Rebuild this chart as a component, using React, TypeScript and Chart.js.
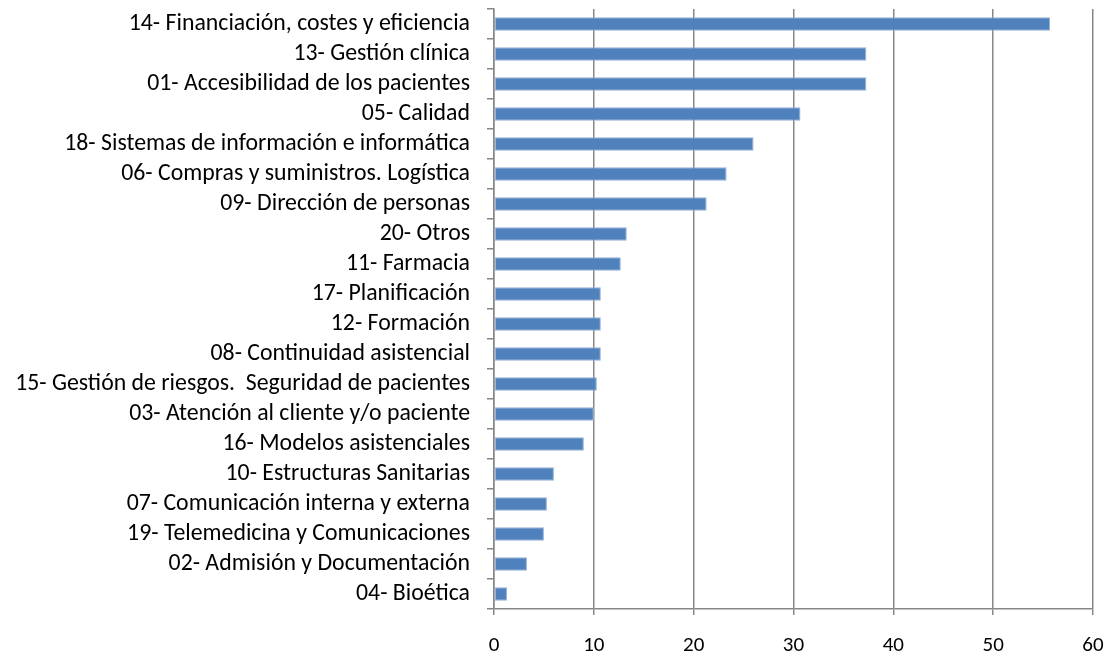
import React, { useEffect, useRef } from "react";
import { Chart, registerables } from "chart.js";

Chart.register(...registerables);

const categories: string[] = [
  "14- Financiación, costes y eficiencia",
  "13- Gestión clínica",
  "01- Accesibilidad de los pacientes",
  "05- Calidad",
  "18- Sistemas de información e informática",
  "06- Compras y suministros. Logística",
  "09- Dirección de personas",
  "20- Otros",
  "11- Farmacia",
  "17- Planificación",
  "12- Formación",
  "08- Continuidad asistencial",
  "15- Gestión de riesgos.  Seguridad de pacientes",
  "03- Atención al cliente y/o paciente",
  "16- Modelos asistenciales",
  "10- Estructuras Sanitarias",
  "07- Comunicación interna y externa",
  "19- Telemedicina y Comunicaciones",
  "02- Admisión y Documentación",
  "04- Bioética",
];

const values: number[] = [
  55.7, 37.3, 37.3, 30.7, 26.0, 23.3, 21.3, 13.3, 12.7, 10.7, 10.7, 10.7, 10.3,
  10.0, 9.0, 6.0, 5.3, 5.0, 3.3, 1.3,
];

const xMin = 0;
const xMax = 60;
const xStep = 10;

const FONT = "Carlito, 'Open Sans', 'Liberation Sans', sans-serif";
const GRID = "#878787";

export default function App() {
  const ref = useRef<HTMLCanvasElement | null>(null);

  useEffect(() => {
    document.body.style.margin = "0";
    const canvas = ref.current;
    if (!canvas) return;
    const chart = new Chart(canvas, {
      type: "bar",
      data: {
        labels: categories,
        datasets: [
          {
            data: values,
            backgroundColor: "#4F81BD",
            borderColor: "#94b2d8",
            borderWidth: 1,
            borderSkipped: false,
            barPercentage: 0.45,
            categoryPercentage: 1,
          },
        ],
      },
      options: {
        indexAxis: "y",
        animation: false,
        responsive: false,
        maintainAspectRatio: false,
        layout: { padding: { top: 9, right: 17, bottom: 0, left: 0 } },
        plugins: { legend: { display: false }, tooltip: { enabled: false } },
        scales: {
          x: {
            min: xMin,
            max: xMax,
            ticks: {
              stepSize: xStep,
              color: "#000",
              font: { family: FONT, size: 21 },
              padding: 18,
              maxRotation: 0,
            },
            grid: {
              color: GRID,
              lineWidth: 1.5,
              tickLength: 6,
              drawTicks: true,
            },
            border: { color: GRID, width: 1.5 },
            afterFit: (axis: any) => {
              axis.height = 47;
              axis.paddingLeft = 0;
              axis.paddingRight = 0;
            },
          },
          y: {
            ticks: {
              color: "#000",
              font: { family: FONT, size: 23.8 },
              padding: 17,
              autoSkip: false,
            },
            grid: {
              drawOnChartArea: false,
              drawTicks: true,
              tickLength: 7,
              color: GRID,
              lineWidth: 1.5,
              offset: true,
            },
            border: { color: GRID, width: 1.5 },
            afterFit: (axis: any) => {
              axis.width = 494;
              axis.paddingTop = 0;
              axis.paddingBottom = 0;
            },
          },
        },
      },
    });
    return () => chart.destroy();
  }, []);

  return (
    <div style={{ position: "absolute", left: 0, top: 0, width: 1110, height: 656 }}>
      <canvas ref={ref} width={1110} height={656} />
    </div>
  );
}
